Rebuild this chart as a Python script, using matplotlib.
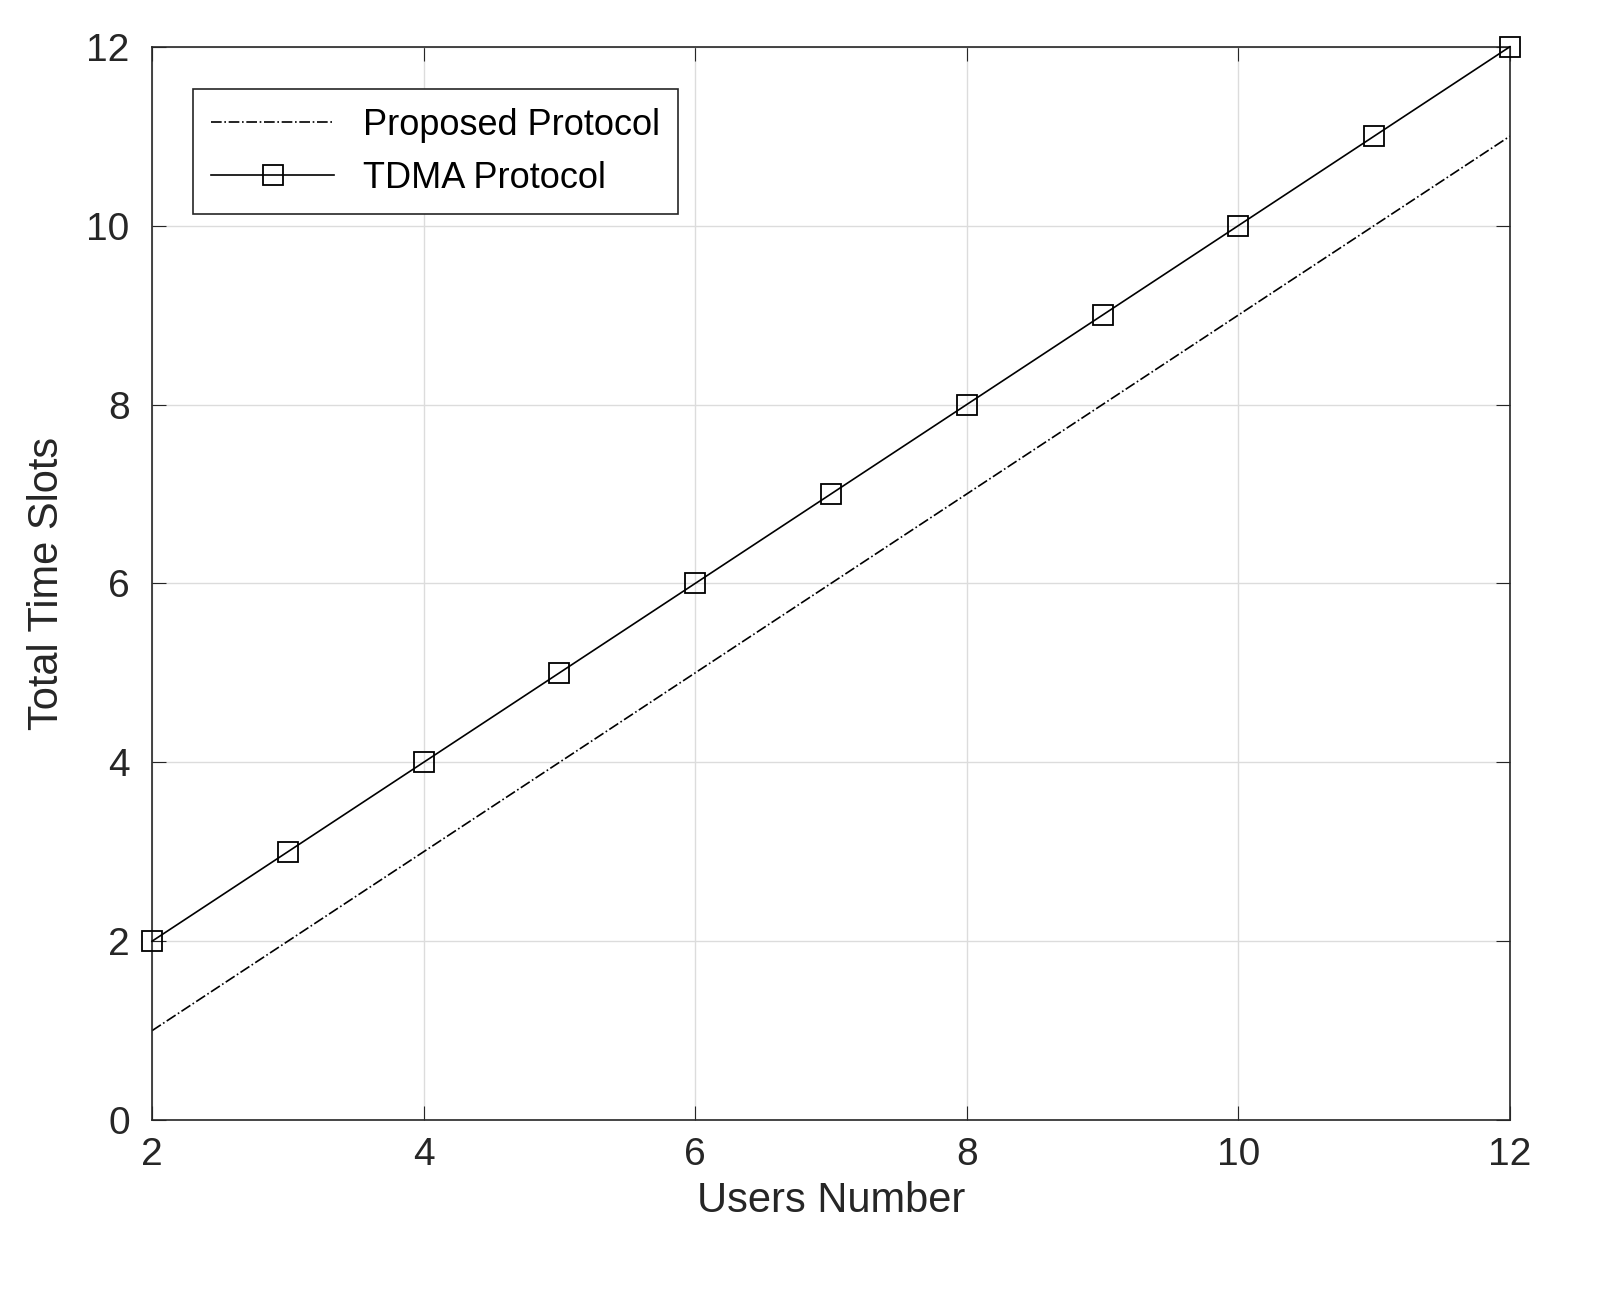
import matplotlib.pyplot as plt

users = [2, 3, 4, 5, 6, 7, 8, 9, 10, 11, 12]
proposed = [1, 2, 3, 4, 5, 6, 7, 8, 9, 10, 11]
tdma = [2, 3, 4, 5, 6, 7, 8, 9, 10, 11, 12]

plt.rcParams['font.family'] = ['Liberation Sans', 'DejaVu Sans']

fig = plt.figure(figsize=(16.08, 12.98), dpi=100)
ax = fig.add_axes([0.0945, 0.137, 0.8445, 0.827])

ax.plot(users, proposed, color='black', linestyle='-.', linewidth=1.2, label='Proposed Protocol')
ax.plot(users, tdma, color='black', linestyle='-', linewidth=1.2, marker='s',
        markersize=14, markerfacecolor='none', markeredgewidth=1.3, label='TDMA Protocol',
        clip_on=False, zorder=5)

ax.set_xlim(2, 12)
ax.set_ylim(0, 12)
ax.set_xticks([2, 4, 6, 8, 10, 12])
ax.set_yticks([0, 2, 4, 6, 8, 10, 12])
ax.grid(True, color='#dcdcdc', linewidth=1)
ax.tick_params(direction='in', length=10, labelsize=28, top=True, right=True, pad=12, colors='#262626')
ax.tick_params(axis='y', pad=16)
for s in ax.spines.values():
    s.set_color('#262626')
    s.set_linewidth(1.2)

ax.set_xlabel('Users Number', fontsize=30, color='#262626', labelpad=6)
ax.set_ylabel('Total Time Slots', fontsize=30, color='#262626', labelpad=14)

leg = ax.legend(loc='upper left', fontsize=26, fancybox=False, edgecolor='#262626',
                framealpha=1, handlelength=3.4, bbox_to_anchor=(0.017, 0.977), borderpad=0.5)
leg.get_frame().set_linewidth(1.2)

fig.savefig('out.png', dpi=100)
